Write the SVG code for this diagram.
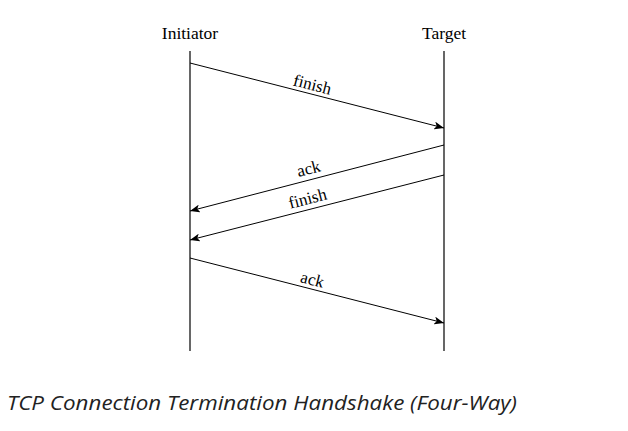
<svg xmlns="http://www.w3.org/2000/svg" width="628" height="431" viewBox="0 0 628 431">
<style>
.hdr{font-family:"Liberation Serif",serif;font-size:17.5px;fill:#000;text-anchor:middle}
.lbl{font-family:"Liberation Serif",serif;font-size:17px;fill:#000;text-anchor:middle}
.life{stroke:#000;stroke-width:1.2;fill:none}
.msg{stroke:#000;stroke-width:1;fill:none;marker-end:url(#ah)}
.cap{font-family:"Open Sans",sans-serif;font-style:italic;font-size:20px;fill:#222}
</style>
<defs>
<marker id="ah" viewBox="0 0 10 8" refX="10" refY="4" markerWidth="10" markerHeight="8" markerUnits="userSpaceOnUse" orient="auto">
<path d="M0,0 L10,4 L0,8 L2.5,4 Z" fill="#000"/>
</marker>
</defs>
<rect width="628" height="431" fill="#fff"/>
<g id="initiator">
<text class="hdr" x="190" y="39">Initiator</text>
<line class="life" x1="190" y1="51" x2="190" y2="351"/>
</g>
<g id="target">
<text class="hdr" x="444" y="39">Target</text>
<line class="life" x1="444" y1="51" x2="444" y2="351"/>
</g>
<g id="connectors">
<line class="msg" x1="190" y1="63" x2="444" y2="128"/>
<text class="lbl" transform="translate(311,90) rotate(14.35)">finish</text>
<line class="msg" x1="444" y1="145" x2="190" y2="211"/>
<text class="lbl" transform="translate(310,174) rotate(-14.6)">ack</text>
<line class="msg" x1="444" y1="175" x2="190" y2="240"/>
<text class="lbl" transform="translate(309,204) rotate(-14.35)">finish</text>
<line class="msg" x1="190" y1="258" x2="444" y2="323"/>
<text class="lbl" transform="translate(311,285) rotate(14.35)">ack</text>
</g>
<text class="cap" x="7" y="410" textLength="510" lengthAdjust="spacingAndGlyphs">TCP Connection Termination Handshake (Four-Way)</text>
</svg>
